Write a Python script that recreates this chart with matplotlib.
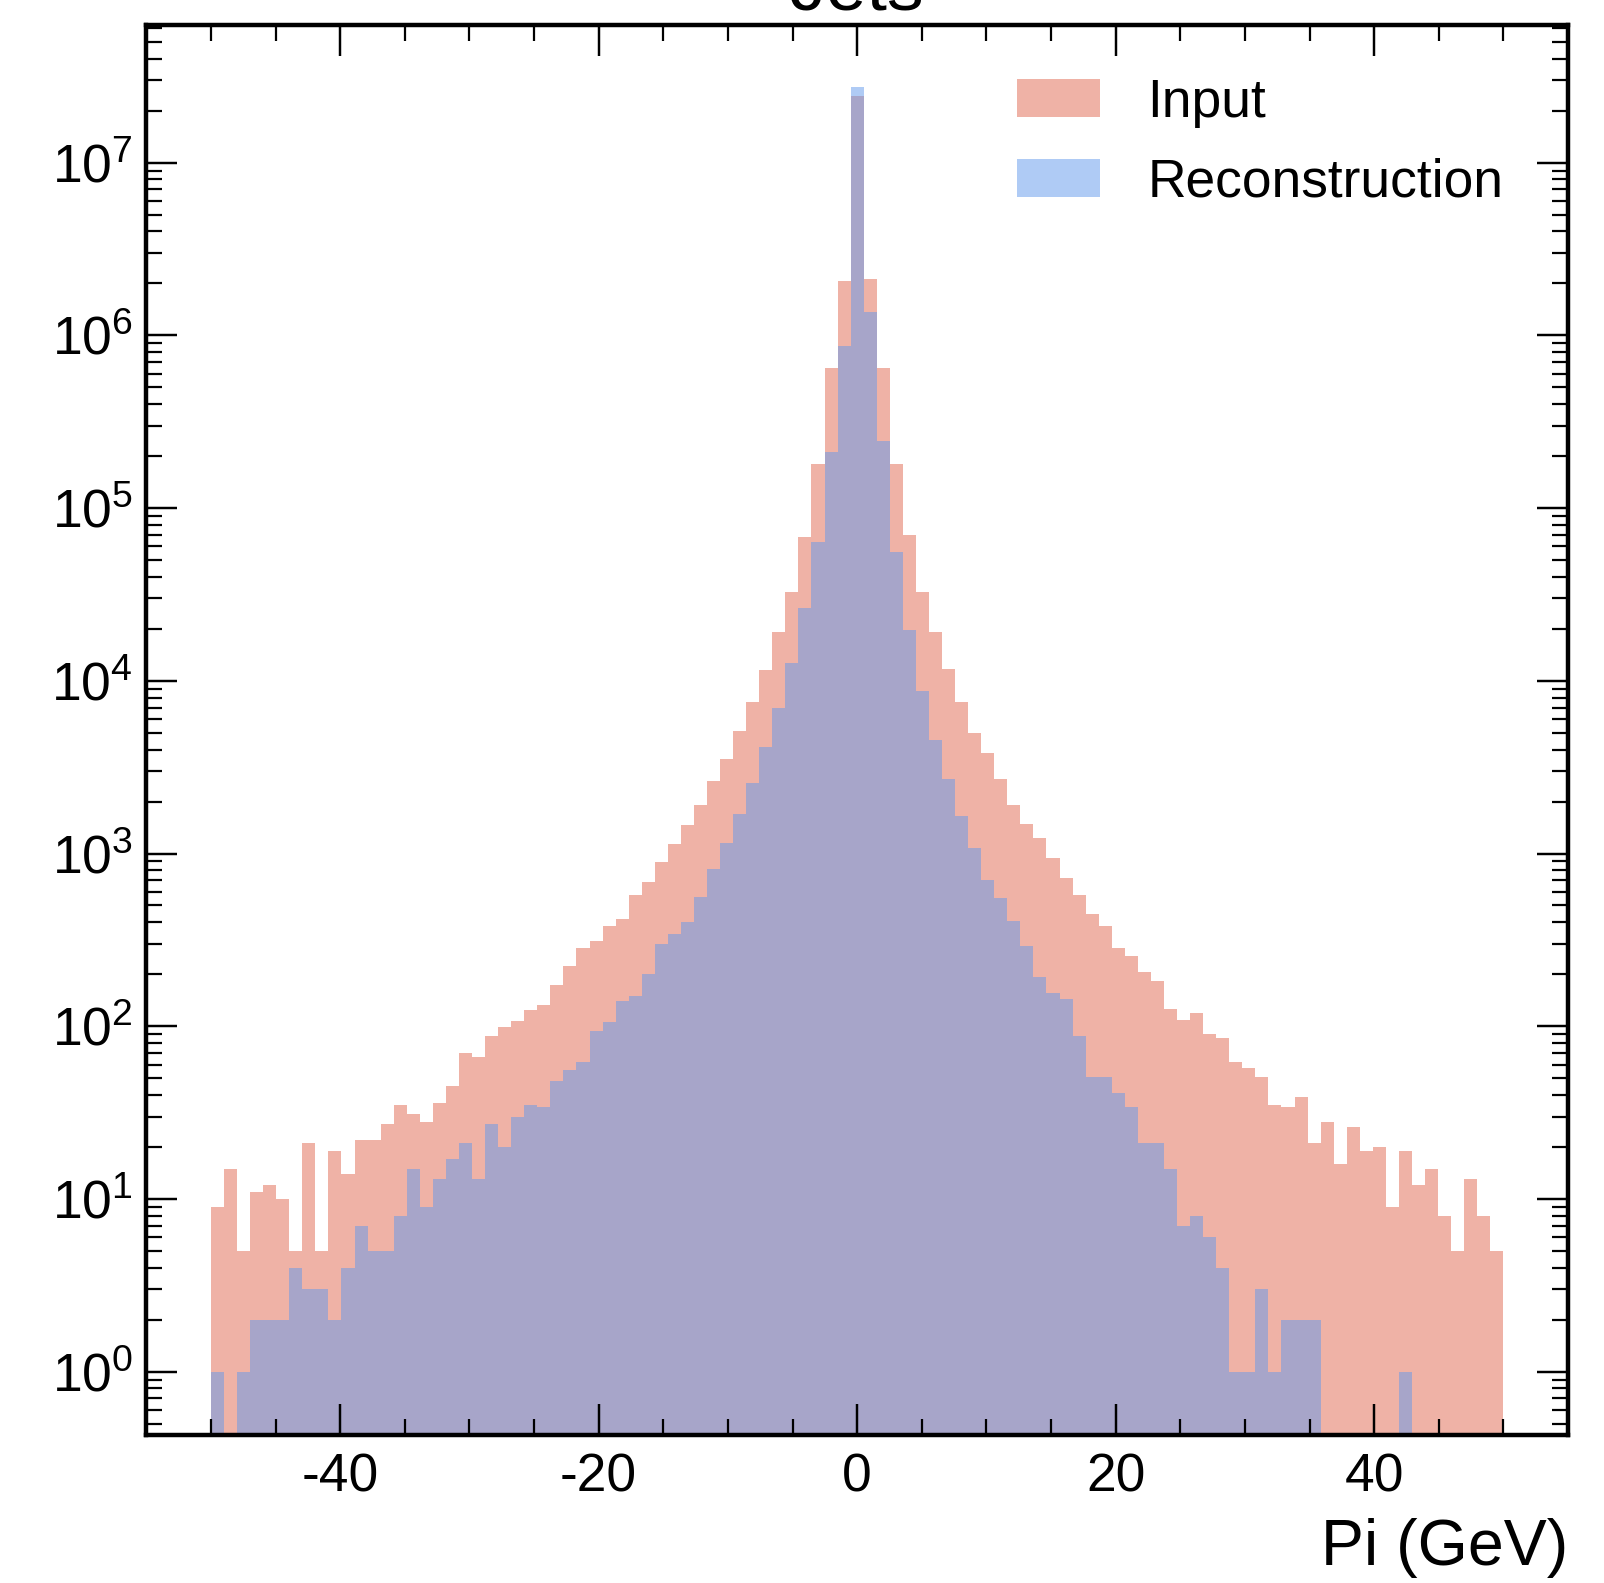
import numpy as np
import matplotlib
matplotlib.use("Agg")
import matplotlib.pyplot as plt
from matplotlib.ticker import MultipleLocator, LogLocator

plt.rcParams['font.family'] = ['Liberation Sans', 'DejaVu Sans']
plt.rcParams['mathtext.fontset'] = 'custom'
plt.rcParams['mathtext.rm'] = 'Liberation Sans'
plt.rcParams['mathtext.it'] = 'Liberation Sans:italic'
plt.rcParams['mathtext.bf'] = 'Liberation Sans:bold'
plt.rcParams['axes.unicode_minus'] = False

# binning: 100 edges from -50 to 50 -> 99 bins
edges = np.linspace(-50, 50, 100)

input_counts = [
    9, 15, 5, 11, 12, 10, 5, 21, 5, 19,
    14, 22, 22, 27, 35, 31, 28, 36, 45, 70,
    66, 88, 99, 107, 124, 133, 174, 222, 282, 312,
    380, 420, 575, 684, 891, 1140, 1460, 1910, 2630, 3530,
    5090, 7530, 11500, 19100, 32800, 68400, 181000, 649000, 2050000, 24300000,
    2110000, 650000, 181000, 69500, 32600, 19100, 11700, 7530, 4970, 3800,
    2700, 1910, 1490, 1230, 943, 720, 575, 449, 380, 282,
    256, 205, 182, 126, 109, 120, 90, 85, 62, 57,
    51, 35, 34, 39, 21, 28, 16, 26, 19, 20,
    9, 19, 12, 15, 8, 5, 13, 8, 5,
]

reco_counts = [
    1, 0, 1, 2, 2, 2, 4, 3, 3, 2,
    4, 7, 5, 5, 8, 15, 9, 13, 17, 21,
    13, 27, 20, 30, 35, 34, 48, 56, 62, 94,
    106, 140, 149, 201, 298, 340, 402, 563, 815, 1148,
    1700, 2560, 4110, 7000, 12600, 26400, 63500, 210000, 870000, 27500000,
    1360000, 244000, 56000, 19600, 8720, 4520, 2700, 1650, 1070, 704,
    553, 408, 292, 194, 155, 144, 88, 51, 51, 41,
    34, 21, 21, 15, 7, 8, 6, 4, 1, 1,
    3, 1, 2, 2, 2, 0, 0, 0, 0, 0,
    0, 1, 0, 0, 0, 0, 0, 0, 0,
]

labels = ["Input", "Reconstruction"]
colors = ["#e0664f", "#6099ec"]

fig = plt.figure(figsize=(1604 / 160, 1583 / 160), dpi=160)
ax = fig.add_axes([0.0912, 0.0935, 0.8864, 0.8910])

centers = 0.5 * (edges[:-1] + edges[1:])
for counts, lab, col in zip([input_counts, reco_counts], labels, colors):
    ax.hist(centers, bins=edges, weights=counts, histtype="stepfilled",
            color=col, alpha=0.5, label=lab, log=True)

ax.set_xlim(-55, 55)
ax.set_ylim(0.43, 6.3e7)

ax.xaxis.set_major_locator(MultipleLocator(20))
ax.xaxis.set_minor_locator(MultipleLocator(5))
ax.yaxis.set_major_locator(LogLocator(base=10, numticks=20))
ax.yaxis.set_minor_locator(LogLocator(base=10, subs=np.arange(2, 10), numticks=20))

ax.tick_params(which="both", direction="in", top=True, right=True, labelsize=24)
ax.tick_params(which="major", length=14, width=1.1)
ax.tick_params(which="minor", length=7, width=1.0)
ax.tick_params(axis="x", which="major", pad=8)
ax.tick_params(axis="y", which="major", pad=6)
for sp in ax.spines.values():
    sp.set_linewidth(2)

ax.set_xlabel("Pi (GeV)", fontsize=29, ha="right")
ax.xaxis.set_label_coords(1.0, -0.059)
ax.set_title("Jets", fontsize=33, pad=6)

ax.legend(loc="upper right", bbox_to_anchor=(0.9694, 0.9773), borderaxespad=0,
          frameon=False, fontsize=24, handlelength=1.56, handleheight=0.71,
          handletextpad=0.88, labelspacing=0.56)

fig.savefig("out.png", dpi=160)
